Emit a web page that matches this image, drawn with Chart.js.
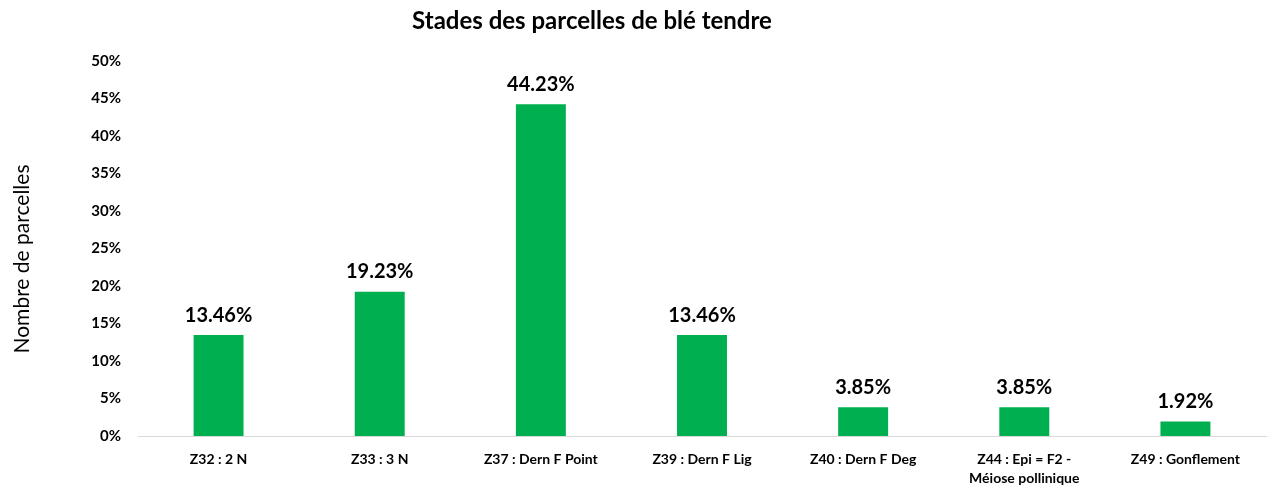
<!DOCTYPE html>
<html>
<head>
<meta charset="utf-8">
<script src="https://cdn.jsdelivr.net/npm/chart.js@4.4.1/dist/chart.umd.min.js"></script>
<style>
  html, body { margin: 0; padding: 0; background: #fff; }
  #wrap { width: 1273px; height: 488px; position: relative; }
</style>
</head>
<body>
<div id="wrap"><canvas id="c" width="1273" height="488"></canvas></div>
<script>
const categories = [
  "Z32 : 2 N",
  "Z33 : 3 N",
  "Z37 : Dern F Point",
  "Z39 : Dern F Lig",
  "Z40 : Dern F Deg",
  ["Z44 : Epi = F2 -", "Méiose pollinique"],
  "Z49 : Gonflement"
];
const values = [13.46, 19.23, 44.23, 13.46, 3.85, 3.85, 1.92];
const valueLabels = ["13.46%", "19.23%", "44.23%", "13.46%", "3.85%", "3.85%", "1.92%"];
const chartTitle = "Stades des parcelles de blé tendre";
const yTitle = "Nombre de parcelles";

const FONT = "Lato, 'Open Sans', sans-serif";

const overlay = {
  id: 'overlay',
  afterDatasetsDraw(chart) {
    const ctx = chart.ctx;
    ctx.save();
    ctx.fillStyle = '#000';
    ctx.textAlign = 'center';
    ctx.textBaseline = 'middle';
    ctx.font = "bold 20px " + FONT;
    const meta = chart.getDatasetMeta(0);
    meta.data.forEach((bar, i) => {
      ctx.fillText(valueLabels[i], bar.x, bar.y - 20);
    });
    ctx.font = "bold 24px " + FONT;
    ctx.fillText(chartTitle, 592, 21);
    ctx.translate(22, 259);
    ctx.rotate(-Math.PI / 2);
    ctx.font = "21px " + FONT;
    ctx.fillText(yTitle, 0, 0);
    ctx.restore();
  }
};

new Chart(document.getElementById('c'), {
  type: 'bar',
  data: {
    labels: categories,
    datasets: [{
      data: values,
      backgroundColor: '#00B050',
      borderWidth: 0,
      categoryPercentage: 1,
      barPercentage: 0.31
    }]
  },
  options: {
    responsive: false,
    animation: false,
    devicePixelRatio: 1,
    layout: { padding: { top: 61, right: 7, bottom: 0, left: 0 } },
    plugins: {
      legend: { display: false },
      title: { display: false },
      tooltip: { enabled: false }
    },
    scales: {
      y: {
        min: 0, max: 50,
        ticks: {
          stepSize: 5,
          callback: v => v + '%',
          color: '#000',
          font: { family: FONT, size: 15, weight: 'bold' },
          padding: 17
        },
        grid: { display: false, drawTicks: false },
        border: { display: false },
        afterFit(s) { s.width = 138; }
      },
      x: {
        ticks: {
          color: '#000',
          font: { family: FONT, size: 14, weight: 'bold', lineHeight: 1.35 },
          padding: 14,
          maxRotation: 0,
          autoSkip: false
        },
        grid: { display: false, drawTicks: false },
        border: { display: true, color: '#d9d9d9', width: 1 },
        afterFit(s) { s.height = 52; }
      }
    }
  },
  plugins: [overlay]
});
</script>
</body>
</html>
